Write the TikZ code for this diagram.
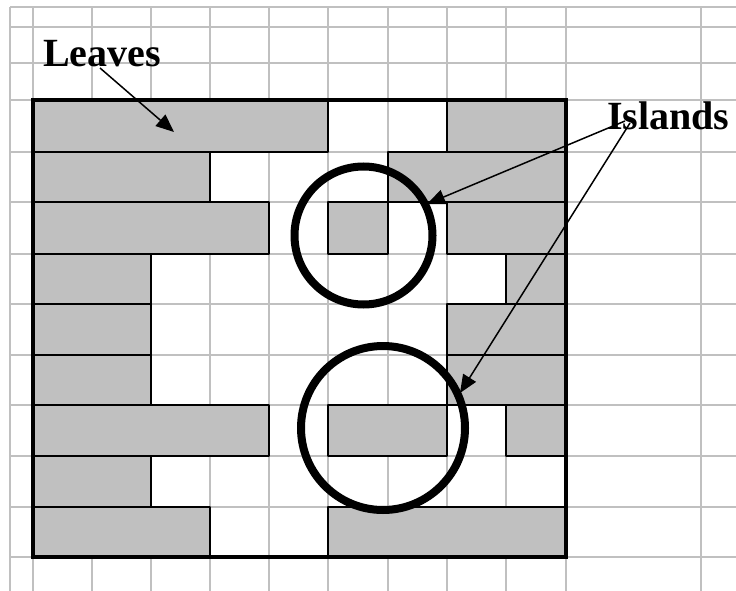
\documentclass[tikz,border=0pt]{standalone}
\usepackage{fontspec}
\setmainfont{Liberation Serif}
\usetikzlibrary{arrows.meta}
\definecolor{gridgray}{HTML}{C0C0C0}
\definecolor{cellgray}{HTML}{C0C0C0}
\begin{document}
\begin{tikzpicture}[x=1pt,y=-1pt,
  gridline/.style={draw=gridgray,line width=2.2pt},
  cell/.style={fill=cellgray,draw=black,line width=2.6pt,line join=round},
  outerbox/.style={draw=black,line width=4.5pt},
  ring/.style={draw=black,line width=8pt},
  pointer/.style={draw=black,line width=1.5pt,-{Triangle[length=18pt,width=15pt]}},
  label/.style={inner sep=0pt,font=\fontsize{40}{44}\selectfont\bfseries}]
\useasboundingbox (0,0) rectangle (736,591);
\fill[white] (0,0) rectangle (736,591);
% gray grid
\foreach \x in {10,33,92,151,210,269,328,388,447,506,566,701}
  \draw[gridline] (\x,7) -- (\x,591);
\foreach \y in {7,27,63,100,152,202,254,304,355,405,456,507,557}
  \draw[gridline] (10,\y) -- (736,\y);
% gray cells
\foreach \a/\b/\c/\d in {
  33/100/328/152, 447/100/566/152,
  33/152/210/202, 388/152/566/202,
  33/202/269/254, 328/202/388/254, 447/202/566/254,
  33/254/151/304, 506/254/566/304,
  33/304/151/355, 447/304/566/355,
  33/355/151/405, 447/355/566/405,
  33/405/269/456, 328/405/447/456, 506/405/566/456,
  33/456/151/507,
  33/507/210/557, 328/507/566/557}
  \draw[cell] (\a,\b) rectangle (\c,\d);
% outer box
\draw[outerbox] (33,100) rectangle (566,557);
% islands circles
\draw[ring] (363.5,235.5) circle[radius=69pt];
\draw[ring] (383,428) circle[radius=82pt];
% labels
\node[label,anchor=base west] (leaves) at (43,67) {Leaves};
\node[label,anchor=base west] (islands) at (607,130) {Islands};
% arrow end points
\coordinate (lstart) at (100,68);
\coordinate (ltip) at (174,132);
\coordinate (istartA) at (625,121);
\coordinate (itipA) at (427,204);
\coordinate (istartB) at (630,123);
\coordinate (itipB) at (460,393);
\draw[pointer] (lstart) -- (ltip);
\draw[pointer] (istartA) -- (itipA);
\draw[pointer] (istartB) -- (itipB);
\end{tikzpicture}
\end{document}
